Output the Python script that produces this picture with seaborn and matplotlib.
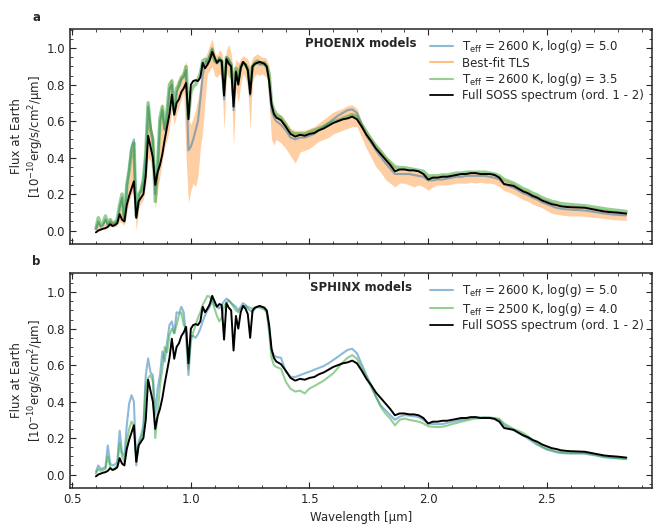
import numpy as np
import matplotlib
matplotlib.use("Agg")
import matplotlib.pyplot as plt
from matplotlib.lines import Line2D
from matplotlib.ticker import MultipleLocator
import seaborn as sns

# wavelength grid [um]: fine in the optical part, coarser in the infrared part
wave_vis = [0.60, 0.61, 0.62, 0.63, 0.64, 0.65, 0.66, 0.67, 0.68, 0.69,
            0.70, 0.71, 0.72, 0.73, 0.74, 0.75, 0.76, 0.77, 0.78, 0.79,
            0.80, 0.81, 0.82, 0.83, 0.84, 0.85, 0.86, 0.87, 0.88, 0.89,
            0.90, 0.91, 0.92, 0.93, 0.94, 0.95, 0.96, 0.97, 0.98, 0.99,
            1.00, 1.01, 1.02, 1.03, 1.04, 1.05, 1.06, 1.07, 1.08, 1.09,
            1.10, 1.11, 1.12, 1.13, 1.14, 1.15, 1.16, 1.17, 1.18, 1.19,
            1.20, 1.21, 1.22, 1.23, 1.24, 1.25, 1.26, 1.27, 1.28, 1.29,
            1.30, 1.31, 1.32, 1.33, 1.34, 1.35, 1.36]
wave_ir = [1.38, 1.40, 1.42, 1.44, 1.46, 1.48, 1.50, 1.52, 1.54, 1.56,
           1.58, 1.60, 1.62, 1.64, 1.66, 1.68, 1.70, 1.72, 1.74, 1.76,
           1.78, 1.80, 1.82, 1.84, 1.86, 1.88, 1.90, 1.92, 1.94, 1.96,
           1.98, 2.00, 2.02, 2.04, 2.06, 2.08, 2.10, 2.12, 2.14, 2.16,
           2.18, 2.20, 2.22, 2.24, 2.26, 2.28, 2.30, 2.32, 2.34, 2.36,
           2.38, 2.40, 2.42, 2.44, 2.46, 2.48, 2.50, 2.52, 2.54, 2.56,
           2.58, 2.60, 2.62, 2.64, 2.66, 2.68, 2.70, 2.72, 2.74, 2.76,
           2.78, 2.80, 2.82, 2.835]

# observed SOSS spectrum (1e-10 erg/s/cm2/um)
soss_vis = [-0.01, 0.00, 0.005, 0.01, 0.013, 0.02, 0.035, 0.025, 0.03, 0.04,
            0.09, 0.06, 0.05, 0.14, 0.19, 0.23, 0.27, 0.07, 0.16, 0.18,
            0.20, 0.30, 0.52, 0.46, 0.40, 0.25, 0.32, 0.36, 0.42, 0.50,
            0.57, 0.64, 0.745, 0.635, 0.70, 0.72, 0.76, 0.78, 0.81, 0.61,
            0.80, 0.82, 0.825, 0.82, 0.84, 0.92, 0.89, 0.91, 0.935, 0.98,
            0.95, 0.92, 0.935, 0.93, 0.74, 0.94, 0.915, 0.90, 0.68, 0.87,
            0.80, 0.89, 0.925, 0.91, 0.88, 0.75, 0.90, 0.915, 0.92, 0.925,
            0.92, 0.915, 0.90, 0.82, 0.69, 0.64, 0.62]
soss_ir = [0.605, 0.57, 0.53, 0.515, 0.525, 0.52, 0.53, 0.535, 0.55, 0.56,
           0.575, 0.59, 0.60, 0.61, 0.615, 0.625, 0.61, 0.57, 0.525, 0.49,
           0.45, 0.42, 0.39, 0.36, 0.325, 0.335, 0.335, 0.33, 0.33, 0.325,
           0.31, 0.28, 0.29, 0.29, 0.295, 0.295, 0.30, 0.305, 0.31, 0.31,
           0.315, 0.315, 0.31, 0.31, 0.31, 0.305, 0.29, 0.255, 0.25, 0.245,
           0.23, 0.215, 0.205, 0.19, 0.18, 0.165, 0.155, 0.145, 0.14, 0.133,
           0.13, 0.128, 0.127, 0.126, 0.125, 0.12, 0.115, 0.11, 0.105, 0.102,
           0.10, 0.098, 0.095, 0.093]

# PHOENIX Teff = 2600 K, log(g) = 5.0
phx50_vis = [0.01, 0.05, 0.02, 0.03, 0.06, 0.03, 0.05, 0.035, 0.04, 0.055,
             0.13, 0.18, 0.055, 0.24, 0.34, 0.46, 0.50, 0.07, 0.19, 0.22,
             0.27, 0.42, 0.68, 0.57, 0.50, 0.20, 0.35, 0.60, 0.66, 0.55,
             0.64, 0.78, 0.80, 0.64, 0.76, 0.79, 0.83, 0.84, 0.88, 0.44,
             0.46, 0.50, 0.55, 0.60, 0.72, 0.85, 0.92, 0.93, 0.96, 1.00,
             0.94, 0.92, 0.95, 0.93, 0.72, 0.95, 0.94, 0.91, 0.66, 0.88,
             0.82, 0.90, 0.92, 0.91, 0.88, 0.74, 0.90, 0.91, 0.92, 0.91,
             0.91, 0.91, 0.89, 0.82, 0.66, 0.62, 0.60]
phx50_ir = [0.58, 0.55, 0.51, 0.50, 0.51, 0.51, 0.52, 0.53, 0.55, 0.57,
            0.59, 0.61, 0.63, 0.645, 0.66, 0.665, 0.645, 0.58, 0.52, 0.48,
            0.44, 0.405, 0.37, 0.34, 0.31, 0.31, 0.31, 0.31, 0.305, 0.30,
            0.295, 0.275, 0.275, 0.28, 0.28, 0.285, 0.29, 0.295, 0.295, 0.30,
            0.30, 0.30, 0.30, 0.30, 0.295, 0.29, 0.28, 0.255, 0.245, 0.235,
            0.22, 0.205, 0.195, 0.18, 0.17, 0.155, 0.145, 0.135, 0.125, 0.12,
            0.117, 0.115, 0.113, 0.112, 0.11, 0.106, 0.102, 0.098, 0.094, 0.091,
            0.088, 0.086, 0.084, 0.083]

# best-fit TLS model, upper and lower envelope of the high-res spectrum
tls_hi_vis = [0.03, 0.05, 0.03, 0.05, 0.07, 0.05, 0.07, 0.05, 0.05, 0.07,
              0.16, 0.20, 0.07, 0.24, 0.36, 0.45, 0.50, 0.08, 0.20, 0.24,
              0.28, 0.44, 0.72, 0.60, 0.52, 0.25, 0.38, 0.66, 0.70, 0.58,
              0.68, 0.82, 0.84, 0.68, 0.82, 0.83, 0.86, 0.88, 0.93, 0.62,
              0.58, 0.62, 0.66, 0.72, 0.82, 0.90, 0.95, 0.98, 1.02, 1.05,
              0.98, 0.96, 0.99, 0.98, 0.90, 0.99, 1.02, 0.97, 0.86, 0.94,
              0.92, 0.94, 0.96, 0.95, 0.94, 0.90, 0.95, 0.96, 0.97, 0.96,
              0.95, 0.95, 0.94, 0.90, 0.72, 0.66, 0.64]
tls_lo_vis = [-0.01, 0.00, 0.00, 0.01, 0.01, 0.02, 0.02, 0.02, 0.02, 0.03,
              0.05, 0.04, 0.03, 0.10, 0.16, 0.20, 0.22, 0.00, 0.12, 0.15,
              0.17, 0.25, 0.40, 0.38, 0.30, 0.12, 0.22, 0.30, 0.38, 0.46,
              0.50, 0.56, 0.66, 0.58, 0.64, 0.68, 0.72, 0.76, 0.40, 0.15,
              0.22, 0.26, 0.24, 0.30, 0.45, 0.55, 0.72, 0.86, 0.88, 0.90,
              0.85, 0.84, 0.86, 0.84, 0.55, 0.86, 0.84, 0.82, 0.46, 0.78,
              0.70, 0.80, 0.86, 0.84, 0.78, 0.55, 0.82, 0.85, 0.86, 0.85,
              0.86, 0.85, 0.84, 0.70, 0.50, 0.47, 0.50]
tls_hi_ir = [0.63, 0.60, 0.56, 0.55, 0.55, 0.55, 0.56, 0.57, 0.59, 0.61,
             0.63, 0.65, 0.66, 0.67, 0.685, 0.69, 0.67, 0.60, 0.55, 0.51,
             0.47, 0.44, 0.41, 0.38, 0.35, 0.34, 0.34, 0.34, 0.335, 0.33,
             0.32, 0.30, 0.30, 0.30, 0.305, 0.305, 0.31, 0.315, 0.315, 0.32,
             0.32, 0.32, 0.32, 0.32, 0.315, 0.31, 0.30, 0.28, 0.27, 0.26,
             0.245, 0.23, 0.22, 0.205, 0.195, 0.18, 0.17, 0.16, 0.15, 0.145,
             0.14, 0.14, 0.138, 0.136, 0.134, 0.13, 0.126, 0.122, 0.118, 0.115,
             0.112, 0.11, 0.107, 0.105]
tls_lo_ir = [0.48, 0.45, 0.41, 0.37, 0.43, 0.44, 0.45, 0.47, 0.49, 0.50,
             0.51, 0.53, 0.54, 0.55, 0.56, 0.57, 0.57, 0.51, 0.45, 0.40,
             0.35, 0.32, 0.28, 0.26, 0.24, 0.26, 0.26, 0.25, 0.24, 0.25,
             0.24, 0.22, 0.24, 0.25, 0.25, 0.25, 0.255, 0.26, 0.26, 0.26,
             0.265, 0.26, 0.265, 0.26, 0.26, 0.255, 0.24, 0.22, 0.21, 0.20,
             0.185, 0.17, 0.16, 0.145, 0.135, 0.125, 0.11, 0.095, 0.09, 0.085,
             0.082, 0.08, 0.08, 0.08, 0.078, 0.075, 0.072, 0.07, 0.066, 0.063,
             0.06, 0.058, 0.057, 0.056]

# PHOENIX Teff = 2600 K, log(g) = 3.5
phx35_vis = [0.01, 0.07, 0.03, 0.04, 0.08, 0.04, 0.06, 0.04, 0.045, 0.06,
             0.14, 0.20, 0.06, 0.25, 0.33, 0.44, 0.48, 0.08, 0.20, 0.22,
             0.28, 0.42, 0.70, 0.55, 0.50, 0.16, 0.36, 0.62, 0.68, 0.56,
             0.66, 0.80, 0.82, 0.66, 0.78, 0.80, 0.84, 0.85, 0.90, 0.62,
             0.76, 0.79, 0.80, 0.83, 0.86, 0.93, 0.94, 0.92, 0.95, 0.99,
             0.93, 0.92, 0.94, 0.93, 0.78, 0.95, 0.93, 0.91, 0.74, 0.89,
             0.83, 0.90, 0.92, 0.91, 0.89, 0.80, 0.90, 0.92, 0.93, 0.92,
             0.92, 0.92, 0.90, 0.86, 0.70, 0.66, 0.64]
phx35_ir = [0.62, 0.58, 0.54, 0.53, 0.53, 0.53, 0.54, 0.55, 0.56, 0.57,
            0.585, 0.595, 0.605, 0.615, 0.625, 0.635, 0.625, 0.58, 0.54, 0.50,
            0.465, 0.435, 0.40, 0.375, 0.35, 0.345, 0.345, 0.34, 0.335, 0.33,
            0.325, 0.30, 0.30, 0.30, 0.305, 0.305, 0.31, 0.315, 0.315, 0.32,
            0.32, 0.32, 0.32, 0.32, 0.315, 0.31, 0.30, 0.28, 0.27, 0.26,
            0.245, 0.23, 0.22, 0.205, 0.195, 0.18, 0.17, 0.16, 0.155, 0.148,
            0.145, 0.143, 0.14, 0.138, 0.136, 0.132, 0.128, 0.124, 0.12, 0.116,
            0.113, 0.11, 0.107, 0.105]

# SPHINX Teff = 2600 K, log(g) = 5.0
sph2600_vis = [0.015, 0.05, 0.03, 0.035, 0.04, 0.16, 0.06, 0.05, 0.055, 0.07,
               0.24, 0.12, 0.10, 0.27, 0.39, 0.435, 0.40, 0.05, 0.18, 0.215,
               0.27, 0.545, 0.637, 0.56, 0.545, 0.33, 0.47, 0.545, 0.675, 0.62,
               0.73, 0.82, 0.84, 0.775, 0.89, 0.885, 0.92, 0.89, 0.75, 0.545,
               0.76, 0.76, 0.75, 0.77, 0.80, 0.84, 0.875, 0.90, 0.92, 0.965,
               0.93, 0.92, 0.91, 0.93, 0.95, 0.965, 0.955, 0.94, 0.93, 0.92,
               0.90, 0.92, 0.94, 0.93, 0.91, 0.90, 0.89, 0.91, 0.92, 0.92,
               0.92, 0.91, 0.89, 0.80, 0.68, 0.655, 0.645]
sph2600_ir = [0.64, 0.565, 0.536, 0.535, 0.545, 0.555, 0.564, 0.575, 0.585, 0.595,
              0.61, 0.628, 0.646, 0.665, 0.683, 0.69, 0.665, 0.605, 0.545, 0.49,
              0.427, 0.38, 0.353, 0.326, 0.30, 0.317, 0.326, 0.323, 0.32, 0.315,
              0.30, 0.28, 0.277, 0.276, 0.277, 0.283, 0.289, 0.295, 0.30, 0.305,
              0.31, 0.313, 0.313, 0.313, 0.312, 0.308, 0.30, 0.27, 0.255, 0.245,
              0.23, 0.216, 0.198, 0.18, 0.163, 0.15, 0.137, 0.13, 0.122, 0.118,
              0.116, 0.115, 0.115, 0.115, 0.114, 0.11, 0.106, 0.10, 0.095, 0.092,
              0.09, 0.088, 0.085, 0.084]

# SPHINX Teff = 2500 K, log(g) = 4.0
sph2500_vis = [0.005, 0.03, 0.02, 0.025, 0.03, 0.10, 0.04, 0.025, 0.035, 0.05,
               0.17, 0.10, 0.07, 0.18, 0.25, 0.29, 0.27, 0.07, 0.16, 0.20,
               0.235, 0.49, 0.53, 0.545, 0.51, 0.20, 0.33, 0.49, 0.58, 0.70,
               0.67, 0.765, 0.80, 0.775, 0.82, 0.875, 0.89, 0.82, 0.80, 0.58,
               0.73, 0.78, 0.82, 0.86, 0.89, 0.93, 0.955, 0.98, 0.975, 0.95,
               0.91, 0.87, 0.84, 0.86, 0.92, 0.945, 0.955, 0.94, 0.92, 0.90,
               0.89, 0.91, 0.92, 0.925, 0.92, 0.915, 0.91, 0.915, 0.92, 0.915,
               0.91, 0.905, 0.89, 0.78, 0.64, 0.60, 0.59]
sph2500_ir = [0.58, 0.51, 0.47, 0.455, 0.46, 0.445, 0.472, 0.485, 0.50, 0.515,
              0.535, 0.555, 0.585, 0.615, 0.64, 0.655, 0.635, 0.585, 0.535, 0.48,
              0.427, 0.372, 0.335, 0.307, 0.27, 0.30, 0.307, 0.30, 0.295, 0.29,
              0.28, 0.265, 0.262, 0.26, 0.262, 0.268, 0.276, 0.283, 0.29, 0.296,
              0.302, 0.307, 0.31, 0.313, 0.312, 0.31, 0.305, 0.28, 0.265, 0.25,
              0.24, 0.228, 0.21, 0.19, 0.17, 0.155, 0.142, 0.134, 0.127, 0.123,
              0.12, 0.119, 0.119, 0.119, 0.118, 0.114, 0.11, 0.105, 0.099, 0.096,
              0.093, 0.091, 0.089, 0.088]

wave = np.array(wave_vis + wave_ir)
soss = np.array(soss_vis + soss_ir)
phx50 = np.array(phx50_vis + phx50_ir)
tls_hi = np.array(tls_hi_vis + tls_hi_ir)
tls_lo = np.array(tls_lo_vis + tls_lo_ir)
phx35 = np.array(phx35_vis + phx35_ir)
sph2600 = np.array(sph2600_vis + sph2600_ir)
sph2500 = np.array(sph2500_vis + sph2500_ir)

sns.set_style("ticks")
plt.rcParams.update({
    "font.family": ["DejaVu Sans"],
    "xtick.direction": "in", "ytick.direction": "in",
    "xtick.top": True, "ytick.right": True,
    "xtick.major.size": 4, "ytick.major.size": 4,
    "xtick.minor.size": 2, "ytick.minor.size": 2,
    "axes.linewidth": 1.1,
})

c_blue, c_orange, c_green = "#1f77b4", "#ff7f0e", "#2ca02c"
lab50 = r"T$_{\rm eff}$ = 2600 K, log(g) = 5.0"
lab35 = r"T$_{\rm eff}$ = 2600 K, log(g) = 3.5"
lab25 = r"T$_{\rm eff}$ = 2500 K, log(g) = 4.0"
lab_soss = "Full SOSS spectrum (ord. 1 - 2)"
fs = 8.5

fig, (ax1, ax2) = plt.subplots(2, 1, figsize=(6.65, 5.32), dpi=100, sharex=True)
fig.subplots_adjust(left=0.105, right=0.981, top=0.945, bottom=0.083, hspace=0.137)

# panel a: PHOENIX
sns.lineplot(x=wave, y=phx50, ax=ax1, color=c_blue, lw=1.5, alpha=0.5,
             estimator=None, sort=False)
ax1.fill_between(wave, tls_lo, tls_hi, color=c_orange, alpha=0.38, lw=0)
sns.lineplot(x=wave, y=phx35, ax=ax1, color=c_green, lw=2.5, alpha=0.5,
             estimator=None, sort=False)
sns.lineplot(x=wave, y=soss, ax=ax1, color="black", lw=1.4,
             estimator=None, sort=False)
handles_a = [Line2D([], [], color=c_blue, lw=1.5, alpha=0.5),
             Line2D([], [], color=c_orange, lw=1.5, alpha=0.5),
             Line2D([], [], color=c_green, lw=1.5, alpha=0.5),
             Line2D([], [], color="black", lw=1.3)]
ax1.legend(handles_a, [lab50, "Best-fit TLS", lab35, lab_soss],
           loc="upper right", frameon=False, fontsize=fs,
           labelspacing=0.12, handletextpad=0.7, borderaxespad=0.35)
ax1.text(0.5, 0.935, "PHOENIX models", transform=ax1.transAxes,
         ha="center", va="center", fontsize=fs, fontweight="bold")

# panel b: SPHINX
sns.lineplot(x=wave, y=sph2600, ax=ax2, color=c_blue, lw=1.5, alpha=0.5,
             estimator=None, sort=False)
sns.lineplot(x=wave, y=sph2500, ax=ax2, color=c_green, lw=1.5, alpha=0.5,
             estimator=None, sort=False)
sns.lineplot(x=wave, y=soss, ax=ax2, color="black", lw=1.4,
             estimator=None, sort=False)
handles_b = [Line2D([], [], color=c_blue, lw=1.5, alpha=0.5),
             Line2D([], [], color=c_green, lw=1.5, alpha=0.5),
             Line2D([], [], color="black", lw=1.3)]
ax2.legend(handles_b, [lab50, lab25, lab_soss],
           loc="upper right", frameon=False, fontsize=fs,
           labelspacing=0.12, handletextpad=0.7, borderaxespad=0.35)
ax2.text(0.5, 0.935, "SPHINX models", transform=ax2.transAxes,
         ha="center", va="center", fontsize=fs, fontweight="bold")

ylab = "Flux at Earth\n[10$^{-10}$erg/s/cm$^2$/µm]"
for ax, letter in [(ax1, "a"), (ax2, "b")]:
    ax.set_xlim(0.49, 2.945)
    ax.set_ylim(-0.073, 1.104)
    ax.xaxis.set_major_locator(MultipleLocator(0.5))
    ax.xaxis.set_minor_locator(MultipleLocator(0.1))
    ax.yaxis.set_major_locator(MultipleLocator(0.2))
    ax.yaxis.set_minor_locator(MultipleLocator(0.05))
    ax.tick_params(which="both", top=True, right=True, direction="in",
                   labelsize=fs)
    ax.set_ylabel(ylab, fontsize=fs, labelpad=0.5)
    ax.text(-0.058, 1.055, letter, transform=ax.transAxes,
            fontsize=fs, fontweight="bold", ha="center", va="center")

ax1.tick_params(labelbottom=False)
ax2.set_xlabel("Wavelength [µm]", fontsize=fs)

fig.savefig("out.png", dpi=100)
